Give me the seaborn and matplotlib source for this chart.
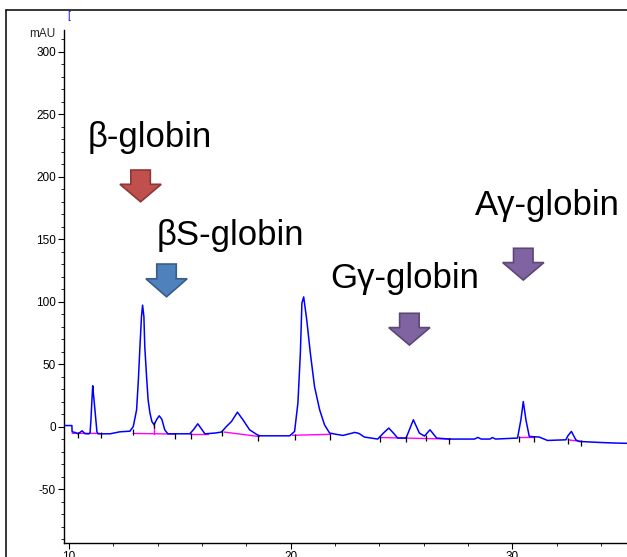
import matplotlib
matplotlib.use("Agg")
import matplotlib.pyplot as plt
from matplotlib.lines import Line2D
from matplotlib.patches import Polygon
from matplotlib.ticker import MultipleLocator
import pandas as pd
import seaborn as sns

# HPLC trace (time in min, absorbance in mAU)
trace_time = [
    9.78, 10.13, 10.14, 10.27, 10.41, 10.59, 10.72, 10.90, 10.95, 10.99,
    11.03, 11.07, 11.11, 11.17, 11.26, 11.31, 11.85, 12.30, 12.75, 12.90,
    13.05, 13.13, 13.20, 13.27, 13.32, 13.38, 13.42, 13.50, 13.57, 13.65,
    13.74, 13.84, 13.96, 14.07, 14.19, 14.32, 14.46, 14.64, 15.00, 15.45,
    15.63, 15.81, 15.95, 16.13, 16.58, 16.88, 17.10, 17.33, 17.60, 17.85,
    18.15, 18.46, 18.60, 19.96, 20.18, 20.33, 20.44, 20.51, 20.59, 20.73,
    20.89, 21.08, 21.31, 21.53, 21.76, 22.06, 22.36, 22.79, 22.88, 23.03,
    23.11, 23.33, 23.93, 24.19, 24.43, 24.64, 24.83, 25.21, 25.36, 25.54,
    25.81, 26.04, 26.29, 26.59, 27.16, 28.30, 28.45, 28.60, 29.00, 29.10,
    29.25, 30.24, 30.39, 30.50, 30.62, 30.77, 31.22, 31.59, 32.42, 32.52,
    32.67, 32.80, 32.87, 33.02, 33.92, 34.67, 35.18,
]
trace_mau = [
    1.0, 1.0, -4.0, -4.5, -5.6, -3.2, -5.5, -5.6, -4.8, 5.6,
    20.0, 32.8, 25.0, 13.6, -4.0, -5.6, -5.6, -4.0, -3.5, 0.2,
    13.6, 37.5, 63.8, 88.0, 97.3, 88.0, 63.8, 40.1, 21.5, 11.2,
    4.2, 1.6, 6.0, 8.8, 6.0, -2.4, -5.6, -5.6, -5.6, -5.6,
    -2.0, 2.4, -1.0, -5.6, -5.0, -4.2, 0.2, 4.2, 11.7, 5.6,
    -2.4, -6.0, -7.2, -7.2, -3.7, 19.1, 59.0, 98.9, 103.9, 85.3,
    59.0, 32.1, 13.6, 1.6, -5.0, -6.0, -6.9, -5.0, -4.5, -5.0,
    -5.6, -8.2, -9.8, -5.0, -1.0, -5.0, -9.0, -9.0, -2.4, 5.6,
    -5.0, -7.4, -2.4, -9.0, -9.8, -9.8, -8.5, -9.8, -9.8, -8.6,
    -9.8, -9.0, 5.4, 20.2, 5.4, -7.7, -8.2, -10.9, -10.4, -7.0,
    -3.7, -8.0, -10.4, -11.7, -12.5, -13.0, -13.2,
]

# integration baselines (start/end time, start/end level)
base_start = [10.14, 12.90, 15.46, 17.00, 20.08, 24.10, 30.29, 32.52]
base_end = [11.40, 14.78, 16.29, 18.59, 21.81, 27.22, 30.98, 33.11]
base_from = [-5.2, -5.3, -5.8, -4.2, -6.8, -8.6, -8.2, -10.4]
base_to = [-5.3, -5.8, -5.8, -7.8, -6.0, -9.8, -8.2, -11.7]
drop_time = [13.84]
drop_from = [-5.6]
drop_to = [1.6]

# peak start/stop event marks
event_time = [10.41, 11.44, 12.90, 13.85, 14.78, 15.49, 16.92, 18.52, 20.20,
              21.78, 24.03, 25.19, 26.10, 27.16, 30.31, 31.00, 32.50, 33.09]
event_mau = [-6.5, -6.5, -4.0, 1.6, -7.0, -7.0, -5.0, -9.0, -8.0,
             -8.0, -10.0, -10.0, -9.0, -11.0, -9.5, -9.5, -11.0, -13.0]

# annotations
labels = ["β-globin", "βS-globin", "Gγ-globin", "Aγ-globin"]
label_time = [13.66, 17.27, 25.14, 31.57]
label_mau = [223.8, 145.4, 111.0, 169.4]
arrow_time = [13.23, 14.40, 25.36, 30.50]
arrow_top = [205.4, 130.2, 90.8, 142.8]
arrow_tip = [180.0, 104.0, 65.4, 117.4]
arrow_fill = ["#C0504D", "#4F81BD", "#8064A2", "#8064A2"]
arrow_edge = ["#8C3836", "#385D8A", "#5C4776", "#5C4776"]

sns.set_theme(style="ticks")
plt.rcParams["font.family"] = ["Liberation Sans", "DejaVu Sans"]
plt.rcParams["axes.unicode_minus"] = False


def block_arrow(ax, t, top, tip, fill, edge):
    """Down-pointing block arrow in data units."""
    shaft, head = 0.44, 0.93
    neck = tip + (top - tip) * 0.55
    pts = [
        (t - shaft, top), (t + shaft, top), (t + shaft, neck), (t + head, neck),
        (t, tip), (t - head, neck), (t - shaft, neck),
    ]
    ax.add_patch(Polygon(pts, closed=True, facecolor=fill, edgecolor=edge,
                         linewidth=1.2, zorder=4))


fig = plt.figure(figsize=(6.27, 5.57), dpi=100)
ax = fig.add_axes([64 / 627, 1 - 542.7 / 557, (627 - 64) / 627, (542.7 - 30) / 557])

trace = pd.DataFrame({"time": trace_time, "mAU": trace_mau})
sns.lineplot(data=trace, x="time", y="mAU", color="#0000FF", linewidth=1.1,
             estimator=None, sort=False, ax=ax, zorder=3)

for t0, t1, v0, v1 in zip(base_start, base_end, base_from, base_to):
    ax.plot([t0, t1], [v0, v1], color="#FF00FF", linewidth=1.0, zorder=2)
for t, v0, v1 in zip(drop_time, drop_from, drop_to):
    ax.plot([t, t], [v0, v1], color="#FF00FF", linewidth=1.0, zorder=2)
ax.scatter(event_time, event_mau, marker="|", s=18, color="black",
           linewidths=0.9, zorder=5)

for text, t, v in zip(labels, label_time, label_mau):
    ax.text(t, v, text, fontsize=25, ha="center", va="baseline", color="black")
for t, top, tip, fc, ec in zip(arrow_time, arrow_top, arrow_tip, arrow_fill, arrow_edge):
    block_arrow(ax, t, top, tip, fc, ec)

ax.set_xlim(9.774, 35.18)
ax.set_ylim(-92.7, 317.4)
ax.xaxis.set_major_locator(MultipleLocator(10))
ax.xaxis.set_minor_locator(MultipleLocator(2))
ax.yaxis.set_major_locator(MultipleLocator(50))
ax.yaxis.set_minor_locator(MultipleLocator(10))
ax.tick_params(which="major", length=4.3, width=0.8, labelsize=8.5, pad=1.5,
               colors="black")
ax.tick_params(which="minor", length=2.0, width=0.7)
ax.set_xlabel("")
ax.set_ylabel("")
sns.despine(ax=ax, top=True, right=True)
for side in ["left", "bottom"]:
    ax.spines[side].set_linewidth(1.0)
    ax.spines[side].set_color("black")

ax.text(-0.015, 1.0 - 4 / 512.7, "mAU", transform=ax.transAxes, fontsize=8.5,
        ha="right", va="center")

# outer window frame of the data system screenshot
fig.add_artist(Line2D([5.5 / 627, 5.5 / 627], [0, 1 - 9.5 / 557],
                      transform=fig.transFigure, color="black", linewidth=1.1))
fig.add_artist(Line2D([5.5 / 627, 1], [1 - 9.5 / 557, 1 - 9.5 / 557],
                      transform=fig.transFigure, color="black", linewidth=1.1))
fig.text(69 / 627, 1 - 16 / 557, "[", color="#0000FF", fontsize=7,
         ha="center", va="center")

fig.savefig("out.png", dpi=100)
plt.close(fig)
